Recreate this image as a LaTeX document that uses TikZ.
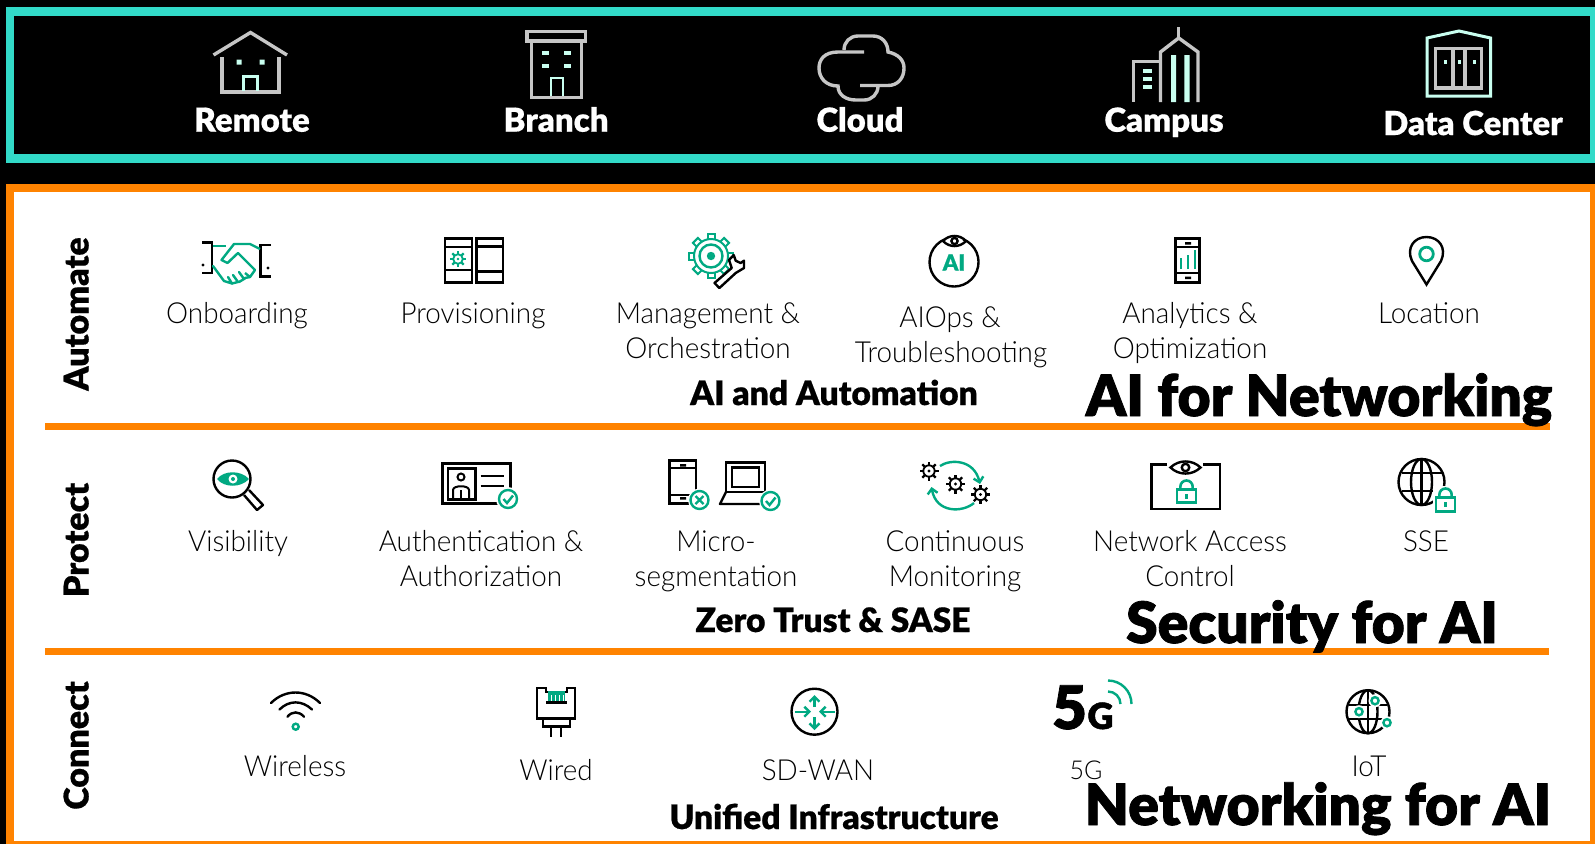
\documentclass[tikz,border=0pt]{standalone}
\usepackage{fontspec}
\usepackage{graphicx}
\setmainfont{Lato}
\newfontfamily\lightf{Lato Light}[FakeStretch=0.96]
\newfontfamily\blackf{Lato Black}[FakeBold=0.5]
\newfontfamily\heavyf{Lato Black}[FakeBold=1.4]
\definecolor{hteal}{HTML}{32DAC8}
\definecolor{horange}{HTML}{FF8300}
\definecolor{hgreen}{HTML}{01A982}
\definecolor{hpale}{HTML}{C9FFF0}
\definecolor{hgrey}{HTML}{C6C6C6}
\usetikzlibrary{arrows.meta}
\tikzset{
  lab/.style={anchor=base,inner sep=0pt,font=\lightf\fontsize{29}{34}\selectfont,text=black},
  toplab/.style={anchor=base,inner sep=0pt,font=\blackf\fontsize{33}{38}\selectfont,text=white},
  sidelab/.style={anchor=base,inner sep=0pt,rotate=90,font=\blackf\fontsize{34}{40}\selectfont,text=black},
  midlab/.style={anchor=base,inner sep=0pt,font=\blackf\fontsize{33.6}{38}\selectfont,text=black},
  biglab/.style={anchor=base,inner sep=0pt,font=\heavyf\fontsize{57}{60}\selectfont,text=black},
  ic/.style={draw=black,line width=2.4pt},
  gn/.style={draw=hgreen,line width=2.4pt},
  gy/.style={draw=hgrey,line width=3.4pt},
  pl/.style={draw=hpale,line width=3pt},
  arr/.style={-{Straight Barb[length=5pt,width=10pt]},draw=hgreen,line width=2.4pt},
}
% gear: x y radius colour
\newcommand{\hpgear}[4]{\begin{scope}[shift={(#1,#2)}]
  \draw[draw=#4,line width=1.8pt] (0,0) circle ({#3*0.6});
  \foreach \a in {0,45,...,315}{\draw[draw=#4,line width=2.2pt] (\a:{#3*0.6}) -- (\a:#3);}
  \fill[#4] (0,0) circle ({#3*0.18});
\end{scope}}
% eye: x y halfwidth halfheight
\newcommand{\hpeye}[4]{\begin{scope}[shift={(#1,#2)}]
  \draw[ic] (-#3,0) .. controls ({-#3*0.45},{-#4*1.35}) and ({#3*0.45},{-#4*1.35}) .. (#3,0)
     .. controls ({#3*0.45},{#4*1.35}) and ({-#3*0.45},{#4*1.35}) .. cycle;
  \draw[ic] (0,0) circle ({#4*0.62});
\end{scope}}
% lock: cx, body top, half width, body height, shackle height
\newcommand{\hplock}[5]{\begin{scope}[shift={(#1,#2)}]
  \fill[white] ({-#3-3},{-#5-3}) rectangle ({#3+3},{#4+3});
  \draw[gn,line width=2.6pt] (-#3,0) rectangle (#3,#4);
  \draw[gn,line width=2.6pt] ({-#3*0.65},0) -- ({-#3*0.65},{-#5+#3*0.65}) arc (180:360:{#3*0.65}) -- ({#3*0.65},0);
  \fill[hgreen] (-1.3,{#4*0.35}) rectangle (1.3,{#4*0.7});
\end{scope}}
\begin{document}
\begin{tikzpicture}[x=1pt,y=-1pt]
\useasboundingbox (0,0) rectangle (1595,844);
\fill[black] (0,0) rectangle (1595,844);
% frames
\fill[hteal] (6,7) rectangle (1595,163);
\fill[black] (14,16) rectangle (1590,154);
\fill[horange] (6,184) rectangle (1595,844);
\fill[white] (14,192) rectangle (1590,841);
\fill[horange] (45,423) rectangle (1550,430);
\fill[horange] (45,648) rectangle (1549,655);
% top labels
\node[toplab] (tremote) at (252,131.7) {Remote};
\node[toplab] (tbranch) at (556,131.7) {Branch};
\node[toplab] (tcloud) at (860,131.7) {Cloud};
\node[toplab] (tcampus) at (1164,131.7) {Campus};
\node[toplab] (tdc) at (1473,135) {Data Center};
% house
\draw[gy] (222,57) -- (222,92) -- (279,92) -- (279,57);
\draw[gy] (213.5,55) -- (250.5,32.5) -- (287,55);
\fill[hpale] (236.5,59.5) rectangle (241.5,64.5) (259.5,59.5) rectangle (264.5,64.5);
\draw[pl] (243.5,91) -- (243.5,76.5) -- (257.5,76.5) -- (257.5,91);
% branch
\draw[gy] (527,31.5) rectangle (585.5,41);
\draw[gy] (531.5,42) -- (531.5,97.5) -- (581.5,97.5) -- (581.5,42);
\foreach \p/\q in {545/53,567/53,545/66,567/66}{\fill[hpale] (\p-3.5,\q-2) rectangle (\p+3.5,\q+2);}
\draw[pl,line width=2.4pt] (551,96) -- (551,78) -- (563,78) -- (563,96);
% cloud
\draw[gy] (864,52) -- (838,52) .. controls (824,52) and (819,60) .. (819,68)
  .. controls (819,78) and (826,86) .. (838,86)
  .. controls (838,95) and (846,100) .. (856,100) -- (864,100)
  .. controls (872,100) and (878,94) .. (878,86);
\draw[gy] (844,50) .. controls (844,42) and (850,36) .. (858,36) -- (873,36)
  .. controls (882,36) and (888,43) .. (888,52)
  .. controls (898,54) and (904,60) .. (904,68)
  .. controls (904,78) and (898,85.5) .. (888,85.5) -- (860,85.5);
% campus
\draw[gy] (1159.5,61.5) -- (1133.5,61.5) -- (1133.5,102);
\draw[gy] (1160.5,102) -- (1160.5,52) -- (1178.7,38) -- (1198,52) -- (1198,102);
\draw[gy] (1178.7,27) -- (1178.7,38);
\fill[hpale] (1171,55) rectangle (1176,102) (1184.4,55) rectangle (1189.6,102);
\foreach \q in {71,79,87}{\fill[hpale] (1143,\q-2) rectangle (1152,\q+2);}
% data centre
\draw[pl] (1427,38) -- (1459,31) -- (1490.5,38) -- (1490.5,96) -- (1427,96) -- cycle;
\draw[gy] (1435.5,48.5) rectangle (1481.5,88);
\draw[gy] (1453,48) -- (1453,88) (1465,48) -- (1465,88);
\foreach \p in {1445,1459,1474}{\fill[hpale] (\p-1.5,60) rectangle (\p+1.5,64);}
% side labels
\node[sidelab] (sauto) at (88.5,314) {Automate};
\node[sidelab] (sprot) at (88.5,540) {Protect};
\node[sidelab] (sconn) at (88.5,745.5) {Connect};
% row 1 labels
\node[lab] (l1) at (237,323) {Onboarding};
\node[lab] (l2) at (473,323) {Provisioning};
\node[lab] (l3a) at (708,323) {Management \&};
\node[lab] (l3b) at (708,358) {Orchestration};
\node[lab] (l4a) at (950,327) {AIOps \&};
\node[lab] (l4b) at (951,362) {Troubleshooting};
\node[lab] (l5a) at (1190,323) {Analytics \&};
\node[lab] (l5b) at (1190,358) {Optimization};
\node[lab] (l6) at (1429,323) {Location};
\node[midlab] (m1) at (834,405) {AI and Automation};
\node[biglab] (b1) at (1319,416) {AI for Networking};
% row 2 labels
\node[lab] (p1) at (238,551) {Visibility};
\node[lab] (p2a) at (481,551) {Authentication \&};
\node[lab] (p2b) at (481,586) {Authorization};
\node[lab] (p3a) at (716,551) {Micro-};
\node[lab] (p3b) at (716,586) {segmentation};
\node[lab] (p4a) at (955,551) {Continuous};
\node[lab] (p4b) at (955,586) {Monitoring};
\node[lab] (p5a) at (1190,551) {Network Access};
\node[lab] (p5b) at (1190,586) {Control};
\node[lab] (p6) at (1426,551) {SSE};
\node[midlab] (m2) at (833,632) {Zero Trust \& SASE};
\node[biglab] (b2) at (1312,643) {Security for AI};
% row 3 labels
\node[lab] (c1) at (295,776.5) {Wireless};
\node[lab] (c2) at (556,780) {Wired};
\node[lab] (c3) at (818,780) {SD-WAN};
\node[lab,font=\lightf\fontsize{26}{30}\selectfont] (c4) at (1086,779) {5G};
\node[lab] (c5) at (1369,776.5) {IoT};
\node[midlab] (m3) at (834,829) {Unified Infrastructure};
\node[biglab] (b3) at (1318,825) {Networking for AI};
% handshake
\draw[ic] (202,242.5) -- (212,242.5) -- (212,273) -- (202,273);
\draw[ic] (271,245) -- (260.5,245) -- (260.5,276.5) -- (271,276.5);
\fill (203,265) circle (1.6) (268,268) circle (1.6);
\draw[gn] (213,246) -- (226,246);
\draw[gn,line join=round] (260,249) -- (250,244) -- (234,244) -- (221.5,260) -- (227.5,263) -- (238,253) -- (255,270) -- (250,277) -- (245,273);
\draw[gn,line join=round,line cap=round] (213,266) -- (224,281) -- (232,283.5) -- (228,277);
\draw[gn,line cap=round] (232,283.5) -- (238,282) -- (233,275) (239,282) -- (244,279) -- (239,272) (245,278) -- (250,277);
% provisioning
\draw[ic] (445,238.5) rectangle (472,282.5) (445,247) -- (472,247) (445,270) -- (472,270);
\draw[ic] (476.5,238.5) rectangle (503,282.5) (476.5,246.5) -- (503,246.5) (476.5,271.5) -- (503,271.5);
\hpgear{458}{259}{8}{hgreen}
% management gear
\begin{scope}[shift={(711,256)}]
\foreach \a in {0,45,...,315}{\filldraw[fill=white,draw=hgreen,line width=2pt,rotate=\a] (-3.5,-15) rectangle (3.5,-22);}
\fill[white] (0,0) circle (17);
\draw[gn,line width=2pt] (0,0) circle (17);
\draw[gn] (0,0) circle (11.5);
\fill[hgreen] (0,0) circle (4.2);
\end{scope}
\fill[white] (715,283) -- (732,266) -- (730,259) -- (734,254) -- (746,259) -- (745,269) -- (736,274) -- (720,289) -- cycle;
\draw[ic,line join=round] (714.5,283) -- (731.7,268) -- (729,260) -- (733.7,255) -- (735.7,260.7) -- (740.6,263) -- (744,260.7) -- (744,268) -- (735.7,273) -- (719.4,288) -- cycle;
% AI eye
\draw[ic] (963.2,239.3) arc (-68:248:24.5);
\hpeye{954.5}{241}{11.5}{5}
\node[inner sep=0pt,anchor=base,text=hgreen,font=\blackf\fontsize{22}{24}\selectfont] (aitxt) at (954,270.5) {AI};
% analytics phone
\draw[ic] (1175.5,238.5) rectangle (1199.5,282.5) (1175.5,247) -- (1199.5,247) (1175.5,273) -- (1199.5,273);
\fill (1185,242) rectangle (1191,244.5) (1185,276.5) rectangle (1191,279);
\draw[gn] (1181,269) -- (1181,258) (1188,269) -- (1188,255) (1195,269) -- (1195,250);
% location
\draw[ic,line join=miter] (1426.5,284.5) -- (1412,261) .. controls (1406,248) and (1414,237) .. (1426.5,237) .. controls (1439,237) and (1447,248) .. (1441,261) -- cycle;
\draw[gn,line width=2.8pt] (1426.5,254) circle (6.8);
% magnifier
\draw[ic] (232,479) circle (18.5);
\draw[ic,line join=round] (244,495) -- (257,510) -- (263,505) -- (249,490);
\fill[hgreen] (217,479) .. controls (224,470) and (241,470) .. (249,479) .. controls (241,488) and (224,488) .. cycle;
\fill[white] (233,479) circle (4.5);
\fill[hgreen] (233,479) circle (2);
% ID card
\draw[ic] (442.5,463.5) rectangle (510.5,503.5);
\draw[ic] (448,468.5) rectangle (475.5,499.5);
\draw[ic,line width=2pt] (461,477) circle (3.5);
\draw[ic,line width=2pt] (453,499) -- (453,490) .. controls (453,485) and (469,485) .. (469,490) -- (469,499);
\draw[ic,line width=2pt] (461,490) -- (461,499);
\draw[ic,line width=2pt] (480.5,476) -- (504,476) (480.5,486) -- (504,486);
\fill[white] (508,499) circle (12);
\draw[gn] (508,499) circle (9);
\draw[gn] (503.5,499) -- (507,503) -- (513,495.5);
% micro-seg
\draw[ic] (669.5,460.5) rectangle (696,503.5) (669.5,468) -- (696,468) (669.5,495) -- (696,495);
\fill (680,464) rectangle (686,466.5) (680,497) rectangle (686,499.5);
\fill[white] (699.5,500) circle (11.5);
\draw[gn] (699.5,500) circle (9);
\draw[gn] (695.5,496) -- (703.5,504) (703.5,496) -- (695.5,504);
\draw[ic] (726,492) -- (726,462.5) -- (765,462.5) -- (765,492) -- cycle;
\draw[ic] (732,467.5) rectangle (759,487);
\draw[ic,line join=round] (726,492) -- (720,504) -- (761,504);
\fill[white] (770.5,501) circle (11.5);
\draw[gn] (770.5,501) circle (9);
\draw[gn] (766,501) -- (769.5,505) -- (775.5,497.5);
% continuous monitoring
\hpgear{929}{471}{9.5}{black}
\hpgear{955.5}{484}{9.5}{black}
\hpgear{980.5}{494.5}{9.5}{black}
\draw[arr] (940,466) .. controls (950,459) and (974,459) .. (980,484);
\draw[arr] (974,503) .. controls (962,513) and (936,513) .. (931.5,487);
% NAC
\draw[ic] (1167,464.5) -- (1151.5,464.5) -- (1151.5,509) -- (1220,509) -- (1220,464.5) -- (1203,464.5);
\hpeye{1185.5}{467.5}{15}{6}
\hplock{1186.5}{489.5}{9.5}{13}{9}
% SSE globe
\begin{scope}[shift={(1421.5,482)}]
\draw[ic] (0,0) circle (23);
\draw[ic] (0,0) ellipse (10.5 and 23);
\draw[ic] (0,-23) -- (0,23) (-20,-9) -- (20,-9) (-20,9) -- (20,9);
\end{scope}
\hplock{1445.5}{497.5}{9.5}{14}{9}
% wireless
\draw[ic,line cap=round] (271,703) .. controls (285,689) and (306,689) .. (320,703);
\draw[ic,line cap=round] (279.5,709.5) .. controls (289,700) and (302,700) .. (312,709.5);
\draw[ic,line cap=round] (287.5,716.7) .. controls (292,711) and (299,711) .. (304,716.7);
\draw[gn] (295.7,726.7) circle (3);
% wired
\draw[ic] (537,688) -- (546,688) -- (546,692) -- (567,692) -- (567,688) -- (575,688) -- (575,718.5) -- (537,718.5) -- cycle;
\draw[ic] (546,702.5) -- (567,702.5);
\draw[ic] (543,719) -- (543,726.5) -- (570,726.5) -- (570,719);
\draw[ic] (551,727) -- (551,737) (561,727) -- (561,737);
\fill[hgreen] (548,691) rectangle (565,701);
\foreach \p in {551,555,559,563}{\draw[white,line width=.9pt] (\p,695) -- (\p,701);}
% SD-WAN
\draw[ic] (814.5,711.7) circle (23);
\draw[arr] (814.5,707) -- (814.5,695);
\draw[arr] (814.5,717) -- (814.5,730);
\draw[arr] (795,711.7) -- (811,711.7);
\draw[arr] (834.5,711.7) -- (819,711.7);
% 5G icon
\node[inner sep=0pt,anchor=base,font=\heavyf\fontsize{60}{62}\selectfont,text=black] (fiveg) at (1069.5,729) {5};
\node[inner sep=0pt,anchor=base,font=\heavyf\fontsize{36}{38}\selectfont,text=black] (fivegb) at (1100.5,729) {G};
\draw[gn] (1108,680.5) arc (-90:0:23.5 and 23.5);
\draw[gn] (1108,691.5) arc (-90:0:12.5 and 12.5);
% IoT globe
\begin{scope}[shift={(1368,711.7)}]
\draw[ic] (0,0) circle (21.5);
\draw[ic] (0,0) ellipse (9.5 and 21.5);
\draw[ic] (0,-21.5) -- (0,21.5) (-19,-7) -- (19,-7) (-19,7) -- (19,7);
\end{scope}
\foreach \p/\q in {1375/700.7,1359/711.7,1387/722.7}{\fill[white] (\p,\q) circle (6.5); \draw[gn] (\p,\q) circle (3.6);}
\end{tikzpicture}
\end{document}
